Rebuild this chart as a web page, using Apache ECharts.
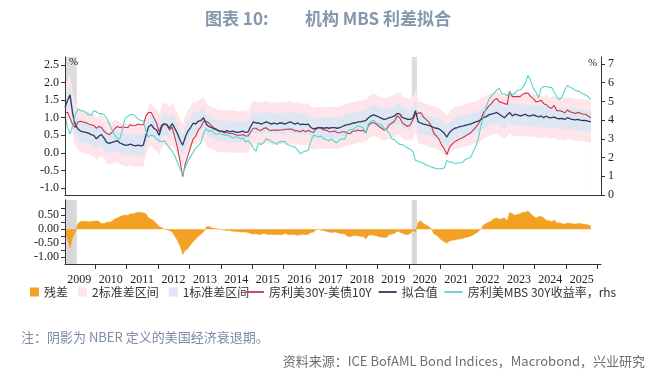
<!DOCTYPE html>
<html><head><meta charset="utf-8">
<script src="https://cdn.jsdelivr.net/npm/echarts@6/dist/echarts.min.js"></script>
<style>html,body{margin:0;padding:0;background:#fff;}#c{width:670px;height:377px;}</style>
</head><body><div id="c"></div>
<script>
// monthly observations starting Jan 2009
const startYear = 2009;
const fitted = [
1.3,1.5,1.65,1.1,0.8,0.68,0.62,0.6,0.58,0.56,0.52,0.5,
0.4,0.48,0.52,0.42,0.3,0.27,0.3,0.32,0.35,0.28,0.25,0.22,
0.22,0.25,0.22,0.2,0.22,0.2,0.22,0.5,0.75,0.8,0.7,0.65,
0.5,0.75,0.83,0.8,0.7,0.83,0.7,0.55,0.36,0.22,0.45,0.62,
0.72,0.85,0.82,0.9,0.92,1.0,0.82,0.75,0.72,0.68,0.65,0.62,
0.62,0.6,0.63,0.6,0.62,0.6,0.58,0.6,0.62,0.58,0.6,0.75,
0.88,0.85,0.85,0.82,0.85,0.88,0.85,0.82,0.85,0.82,0.85,0.85,
0.82,0.85,0.88,0.85,0.82,0.85,0.8,0.82,0.8,0.82,0.72,0.68,
0.7,0.72,0.72,0.7,0.72,0.7,0.72,0.72,0.7,0.72,0.75,0.78,
0.8,0.82,0.85,0.85,0.88,0.88,0.9,0.92,1.0,1.05,1.08,1.05,
1.02,0.98,0.95,0.97,1.0,1.02,1.05,1.12,1.1,1.0,0.98,0.95,
0.95,1.0,1.2,0.88,0.85,0.82,0.8,0.78,0.75,0.72,0.7,0.68,
0.62,0.55,0.45,0.58,0.65,0.7,0.72,0.75,0.76,0.78,0.8,0.82,
0.85,0.88,0.9,0.95,1.0,1.03,1.08,1.1,1.12,1.15,1.1,1.05,
1.0,1.08,1.15,1.05,1.1,1.08,1.05,1.07,1.1,1.05,1.05,1.08,
1.05,1.02,1.05,1.0,1.05,1.0,1.0,1.02,0.98,0.97,0.98,0.95,
1.0,0.97,0.95,0.94,0.95,0.93,0.92,0.92,0.9,0.88
];
const spread = [
1.15,1.15,0.98,0.8,0.72,0.88,0.9,0.88,0.86,0.82,0.8,0.78,
0.7,0.75,0.72,0.62,0.55,0.52,0.58,0.68,0.75,0.72,0.74,0.72,
0.72,0.8,0.77,0.78,0.82,0.8,0.8,1.05,1.15,1.15,1.0,0.85,
0.6,0.8,0.83,0.78,0.65,0.73,0.45,0.15,-0.24,-0.68,-0.3,-0.08,
0.17,0.4,0.47,0.65,0.74,0.9,0.9,0.85,0.77,0.71,0.67,0.62,
0.6,0.57,0.58,0.55,0.55,0.52,0.5,0.5,0.52,0.48,0.48,0.6,
0.7,0.7,0.65,0.64,0.7,0.71,0.65,0.64,0.65,0.64,0.65,0.65,
0.67,0.67,0.68,0.67,0.62,0.63,0.6,0.64,0.6,0.64,0.6,0.58,
0.68,0.72,0.69,0.65,0.64,0.6,0.6,0.62,0.58,0.57,0.6,0.6,
0.55,0.55,0.62,0.62,0.65,0.62,0.65,0.57,0.78,0.85,0.86,0.82,
0.75,0.7,0.65,0.68,0.8,0.85,0.9,1.05,1.0,0.85,0.8,0.75,
0.8,0.95,1.1,1.13,1.15,1.02,0.95,0.88,0.77,0.55,0.48,0.38,
0.22,0.1,-0.05,0.16,0.25,0.32,0.36,0.4,0.43,0.48,0.52,0.57,
0.65,0.73,0.82,0.95,1.15,1.23,1.33,1.4,1.5,1.55,1.45,1.43,
1.4,1.38,1.75,1.6,1.6,1.6,1.6,1.67,1.7,1.7,1.6,1.55,
1.45,1.47,1.5,1.4,1.37,1.3,1.27,1.35,1.2,1.2,1.18,1.13,
1.22,1.17,1.15,1.12,1.15,1.13,1.1,1.1,1.05,1.0
];
const residual = [
-0.15,-0.35,-0.67,-0.3,-0.08,0.2,0.28,0.28,0.28,0.26,0.28,0.28,
0.3,0.27,0.2,0.2,0.25,0.25,0.28,0.36,0.4,0.44,0.49,0.5,
0.5,0.55,0.55,0.58,0.6,0.6,0.58,0.55,0.4,0.35,0.3,0.2,
0.1,0.05,0.0,-0.02,-0.05,-0.1,-0.25,-0.4,-0.6,-0.9,-0.75,-0.7,
-0.55,-0.45,-0.35,-0.25,-0.18,-0.1,0.08,0.1,0.05,0.03,0.02,0.0,
-0.02,-0.03,-0.05,-0.05,-0.07,-0.08,-0.08,-0.1,-0.1,-0.1,-0.12,-0.15,
-0.18,-0.15,-0.2,-0.18,-0.15,-0.17,-0.2,-0.18,-0.2,-0.18,-0.2,-0.2,
-0.15,-0.18,-0.2,-0.18,-0.2,-0.22,-0.2,-0.18,-0.2,-0.18,-0.12,-0.1,
-0.02,0.0,-0.03,-0.05,-0.08,-0.1,-0.12,-0.1,-0.12,-0.15,-0.15,-0.18,
-0.25,-0.27,-0.23,-0.23,-0.23,-0.26,-0.25,-0.35,-0.22,-0.2,-0.22,-0.23,
-0.27,-0.28,-0.3,-0.29,-0.2,-0.17,-0.15,-0.07,-0.1,-0.15,-0.18,-0.2,
-0.15,-0.05,-0.1,0.25,0.3,0.2,0.15,0.1,0.02,-0.17,-0.22,-0.3,
-0.4,-0.45,-0.5,-0.42,-0.4,-0.38,-0.36,-0.35,-0.33,-0.3,-0.28,-0.25,
-0.2,-0.15,-0.08,0.0,0.15,0.2,0.25,0.3,0.38,0.4,0.35,0.38,
0.4,0.3,0.6,0.55,0.5,0.52,0.55,0.6,0.6,0.65,0.55,0.47,
0.4,0.45,0.45,0.4,0.32,0.3,0.27,0.33,0.22,0.23,0.2,0.18,
0.22,0.2,0.2,0.18,0.2,0.2,0.18,0.18,0.15,0.12
];
const mbsYield = [
4.2,3.6,3.25,3.7,4.3,4.6,4.5,4.5,4.4,4.3,4.25,4.5,
4.45,4.35,4.35,4.3,4.1,3.8,3.5,3.2,3.05,3.0,3.5,4.1,
4.2,4.3,4.3,4.2,4.05,4.0,3.95,3.4,3.1,3.2,3.15,3.0,
2.9,2.85,2.9,2.7,2.5,2.35,2.1,1.75,1.4,1.1,1.5,1.8,
2.05,2.3,2.5,2.65,2.8,3.3,3.55,3.4,3.45,3.3,3.25,3.3,
3.25,3.2,3.2,3.15,3.05,3.1,3.1,3.0,3.05,2.85,2.9,2.75,
2.5,2.35,2.75,2.7,2.8,3.0,2.95,2.85,2.8,2.7,2.85,2.85,
2.85,2.7,2.65,2.6,2.55,2.4,2.2,2.3,2.35,2.4,2.9,3.2,
3.15,3.1,3.15,3.0,2.95,2.9,3.0,2.85,2.8,2.95,3.0,3.0,
3.4,3.5,3.5,3.6,3.7,3.65,3.6,3.3,3.8,3.95,4.0,3.85,
3.8,3.75,3.55,3.45,3.3,3.0,2.95,2.8,2.7,2.7,2.6,2.5,
2.45,2.3,1.85,1.8,1.75,1.7,1.6,1.55,1.5,1.45,1.4,1.4,
1.4,1.45,1.85,1.75,1.75,1.7,1.7,1.72,1.75,1.9,1.95,2.0,
2.3,2.6,3.0,3.7,4.2,4.7,5.1,5.3,5.45,5.6,5.7,5.4,
5.4,5.3,5.5,5.35,5.45,5.6,5.6,5.75,6.0,6.4,6.1,5.7,
5.5,5.2,5.7,5.8,5.8,5.75,5.75,5.5,5.25,5.1,5.25,5.6,
5.85,5.75,5.7,5.6,5.55,5.5,5.4,5.35,5.25,5.1
];
const sigma = 0.3; // one standard deviation of the fit
const recessions = [['2009-01-15','2009-06-01'],['2020-02-01','2020-04-01']];
const yearLabels = [2009,2010,2011,2012,2013,2014,2015,2016,2017,2018,2019,2020,2021,2022,2023,2024,2025];
const leftTicks = [-1,-0.5,0,0.5,1,1.5,2,2.5];
const rightTicks = [0,1,2,3,4,5,6,7];
const resLabels = [-1,-0.5,0,0.5];
const resTicks = [-1,-0.75,-0.5,-0.25,0,0.25,0.5,0.75];

const dates = fitted.map((_, i) => new Date(startYear + Math.floor(i / 12), i % 12, 15).getTime());
const pair = arr => arr.map((v, i) => [dates[i], v]);
const xMin = new Date(2009, 0, 15).getTime();
const xMax = new Date(2026, 1, 10).getTime();
const yearTicks = yearLabels.map(y => new Date(y + 1, 0, 1).getTime());
const yearMids = yearLabels.map(y => new Date(y, 6, 1).getTime());
const toTime = s => { const p = s.split('-').map(Number); return new Date(p[0], p[1] - 1, p[2]).getTime(); };
const recArea = recessions.map(r => [{xAxis: toTime(r[0])}, {xAxis: toTime(r[1])}]);

const NUM = 'Liberation Serif';
const CJK = '"Noto Sans CJK SC", sans-serif';
const PINK = '#fde5e9', BLUE = '#dfe6f3', RED = '#c8374c', NAVY = '#2c3a58', CYAN = '#55d6cb', ORANGE = '#f3a125';

const chart = echarts.init(document.getElementById('c'), null, {renderer: 'canvas'});
const band = (name, k, color) => ({type: 'line', name: name, xAxisIndex: 0, yAxisIndex: 0, symbol: 'none', silent: true, z: 1,
  itemStyle: {color: color}, lineStyle: {width: 0, opacity: 0}, areaStyle: {color: color, opacity: 1, origin: 'start'},
  data: pair(fitted.map(v => v + k * sigma))});
const axisLine = {show: true, onZero: false, lineStyle: {color: '#333'}};
chart.setOption({
  animation: false,
  title: [
    {text: '图表 10:', left: 200, top: 5, textStyle: {fontFamily: CJK, fontSize: 17, fontWeight: 'bold', color: '#8398b0'}},
    {text: '机构 MBS 利差拟合', left: 300, top: 5, textStyle: {fontFamily: CJK, fontSize: 17, fontWeight: 'bold', color: '#8398b0'}}
  ],
  grid: [
    {left: 65, top: 57, width: 536, height: 138},
    {left: 65, top: 200, width: 536, height: 64}
  ],
  xAxis: [
    {type: 'value', gridIndex: 0, min: xMin, max: xMax, z: 10, axisLine: axisLine, axisTick: {show: false}, axisLabel: {show: false}, splitLine: {show: false}},
    {type: 'value', gridIndex: 1, min: xMin, max: xMax, z: 10, axisLine: axisLine,
      axisTick: {show: true, customValues: yearTicks, length: 5, lineStyle: {color: '#333'}},
      axisLabel: {customValues: yearMids, formatter: v => String(new Date(v).getFullYear()), fontFamily: NUM, fontSize: 12, color: '#222', margin: 10},
      splitLine: {show: false}}
  ],
  yAxis: [
    {type: 'value', gridIndex: 0, min: -1.2, max: 2.728, z: 10, axisLine: axisLine,
      axisTick: {show: true, customValues: leftTicks, length: 4, lineStyle: {color: '#333'}},
      axisLabel: {customValues: leftTicks, formatter: v => v.toFixed(1), fontFamily: NUM, fontSize: 12, color: '#222', margin: 6},
      splitLine: {show: false}},
    {type: 'value', gridIndex: 0, position: 'right', min: 0, max: 7.375, z: 10, axisLine: axisLine,
      axisTick: {show: true, customValues: rightTicks, length: 4, lineStyle: {color: '#333'}},
      axisLabel: {customValues: rightTicks, formatter: v => String(v), fontFamily: NUM, fontSize: 12, color: '#222', margin: 7},
      splitLine: {show: false}},
    {type: 'value', gridIndex: 1, min: -1.24, max: 1.04, z: 10, axisLine: axisLine,
      axisTick: {show: true, customValues: resTicks, length: 4, lineStyle: {color: '#333'}},
      axisLabel: {customValues: resLabels, formatter: v => v.toFixed(2), fontFamily: NUM, fontSize: 12, color: '#222', margin: 6},
      splitLine: {show: false}}
  ],
  legend: [
    {left: 30, top: 286, padding: 0, itemGap: 10, itemWidth: 9, itemHeight: 9, icon: 'rect',
      textStyle: {fontFamily: CJK, fontSize: 12, color: '#333'},
      data: ['残差', '2标准差区间', '1标准差区间']},
    {left: 246, top: 286, padding: 0, itemGap: 7, itemWidth: 18, itemHeight: 2,
      icon: 'path://M0,0 L10,0 L10,1 L0,1 Z',
      textStyle: {fontFamily: CJK, fontSize: 12, color: '#333'},
      data: ['房利美30Y-美债10Y', '拟合值', '房利美MBS 30Y收益率，rhs']}
  ],
  graphic: [
    {type: 'text', left: 69, top: 57, z: 20, style: {text: '%', fontFamily: NUM, fontSize: 11, fill: '#222'}},
    {type: 'text', left: 588, top: 58, z: 20, style: {text: '%', fontFamily: NUM, fontSize: 11, fill: '#222'}},
    {type: 'text', left: 21, top: 331, style: {text: '注：阴影为 NBER 定义的美国经济衰退期。', fontFamily: CJK, fontSize: 13, fill: '#7c8ca3'}},
    {type: 'text', right: 25, top: 355, style: {text: '资料来源：ICE BofAML Bond Indices，Macrobond，兴业研究', fontFamily: CJK, fontSize: 13, fill: '#6e6e6e'}}
  ],
  series: [
    band('2标准差区间', 2, PINK),
    band('1标准差区间', 1, BLUE),
    band('2标准差区间', -1, PINK),
    band('bandFloor', -2, '#ffffff'),
    {type: 'line', name: 'recession', xAxisIndex: 0, yAxisIndex: 0, symbol: 'none', silent: true, z: 2,
      lineStyle: {width: 0, opacity: 0}, data: pair(fitted),
      markArea: {silent: true, itemStyle: {color: '#d8d8d8', opacity: 0.9}, data: recArea}},
    {type: 'line', name: '房利美30Y-美债10Y', xAxisIndex: 0, yAxisIndex: 0, symbol: 'none', z: 3,
      itemStyle: {color: RED}, lineStyle: {color: RED, width: 1.1}, data: pair(spread)},
    {type: 'line', name: '拟合值', xAxisIndex: 0, yAxisIndex: 0, symbol: 'none', z: 4,
      itemStyle: {color: NAVY}, lineStyle: {color: NAVY, width: 1.3}, data: pair(fitted)},
    {type: 'line', name: '房利美MBS 30Y收益率，rhs', xAxisIndex: 0, yAxisIndex: 1, symbol: 'none', z: 5,
      itemStyle: {color: CYAN}, lineStyle: {color: CYAN, width: 1.1}, data: pair(mbsYield)},
    {type: 'line', name: '残差', xAxisIndex: 1, yAxisIndex: 2, symbol: 'none', z: 3,
      itemStyle: {color: ORANGE}, lineStyle: {color: ORANGE, width: 0.5}, areaStyle: {color: ORANGE, opacity: 1},
      markArea: {silent: true, itemStyle: {color: '#d8d8d8'}, data: recArea},
      data: pair(residual)}
  ]
});
</script>
</body></html>
